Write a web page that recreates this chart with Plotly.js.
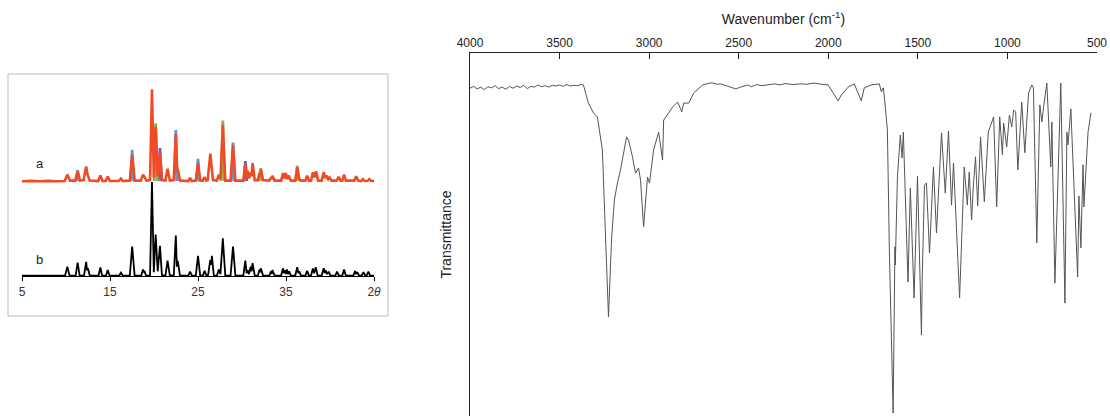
<!DOCTYPE html>
<html><head><meta charset="utf-8">
<script src="https://cdn.plot.ly/plotly-3.0.1.min.js"></script>
<style>html,body{margin:0;padding:0;background:#fff}#chart{width:1110px;height:416px}</style>
</head><body><div id="chart"></div>
<script>
// ---------- XRD pattern b (black), 2theta vs relative intensity ----------
const xrdB_theta = [
 5, 9.9, 10.15, 10.4,
 11.1, 11.32, 11.55,
 12.05, 12.29, 12.4, 12.5, 12.7,
 13.7, 13.91, 14.1,
 14.55, 14.74, 14.95,
 16.05, 16.24, 16.45,
 17.25, 17.52, 17.8,
 18.55, 18.75, 18.82, 18.9, 19.1,
 19.55, 19.77, 19.98, 20.19, 20.42, 20.68, 20.9,
 21.3, 21.54, 21.8,
 22.25, 22.48, 22.6, 22.7, 22.95,
 23.9, 24.1, 24.3,
 24.75, 25.0, 25.25,
 25.55, 25.75, 25.95,
 26.15, 26.39, 26.48, 26.58, 26.8,
 27.15, 27.37, 27.55, 27.82, 28.1,
 28.7, 28.98, 29.25,
 30.15, 30.38, 30.52, 30.64, 30.8, 30.98, 31.08, 31.2, 31.45,
 31.8, 32.0, 32.07, 32.14, 32.4,
 33.1, 33.3, 33.38, 33.46, 33.7,
 34.45, 34.66, 34.76, 34.85, 34.97, 35.1, 35.22, 35.35, 35.55,
 36.05, 36.28, 36.4, 36.5, 36.7,
 37.2, 37.4, 37.6,
 37.85, 38.05, 38.2, 38.38, 38.6,
 39.05, 39.29, 39.4, 39.5, 39.68, 39.85, 40.05,
 40.6, 40.8, 41.0,
 41.4, 41.6, 41.8,
 42.65, 42.86, 42.98, 43.1, 43.3,
 43.6, 43.8, 44.0,
 44.15, 44.36, 44.55, 45
];
const xrdB_int = [
 0.5, 0.5, 10, 0.5,
 0.5, 14.3, 0.5,
 0.5, 15, 6, 8, 0.5,
 0.5, 9, 0.5,
 0.5, 6.4, 0.5,
 0.5, 3.6, 0.5,
 0.5, 31.4, 0.5,
 0.5, 7, 4, 5.5, 0.5,
 0.5, 100, 4, 44, 5, 32, 1,
 0.5, 16.4, 0.5,
 1, 43, 10, 16, 0.5,
 0.5, 4.6, 0.5,
 0.5, 21.4, 0.5,
 0.5, 5.4, 0.5,
 1, 17, 12, 21.4, 0.5,
 0.5, 7, 2, 40, 0.5,
 0.5, 31.4, 0.5,
 0.5, 16.4, 3, 6.4, 2, 10, 5, 13.6, 0.5,
 0.5, 7, 4, 8.2, 0.5,
 0.5, 5, 2, 6.4, 0.5,
 0.5, 8.2, 3, 6, 2, 7, 2, 5, 0.5,
 0.5, 9.3, 3, 5, 0.5,
 0.5, 5.4, 0.5,
 0.5, 7.9, 3, 9.3, 0.5,
 0.5, 8.2, 3, 6, 2, 4.6, 0.5,
 0.5, 4.6, 0.5,
 0.5, 7, 0.5,
 0.5, 5.4, 2, 4, 0.5,
 0.5, 4, 0.5,
 0.5, 4.6, 0.5, 0.5
];

// ---------- XRD pattern a (orange) ----------
const xrdA_theta = [
 5, 6, 7, 8, 9, 9.85, 10.15, 10.45,
 11.05, 11.32, 11.6,
 12.0, 12.29, 12.45, 12.7,
 13.65, 13.91, 14.15,
 14.5, 14.74, 14.98,
 16.0, 16.24, 16.5,
 17.25, 17.52, 17.8,
 18.5, 18.75, 18.9, 19.15,
 19.55, 19.77, 19.98, 20.19, 20.42, 20.68, 20.92,
 21.3, 21.54, 21.8,
 22.25, 22.48, 22.62, 22.7, 22.95,
 23.9, 24.1, 24.3,
 24.75, 25.0, 25.25,
 25.55, 25.75, 25.95,
 26.1, 26.4, 26.7,
 27.15, 27.37, 27.55, 27.82, 28.1,
 28.7, 28.98, 29.25,
 30.15, 30.38, 30.52, 30.64, 30.8, 30.98, 31.08, 31.2, 31.45,
 31.8, 32.0, 32.07, 32.14, 32.4,
 33.1, 33.3, 33.38, 33.46, 33.7,
 34.45, 34.66, 34.8, 34.98, 35.12, 35.3, 35.55,
 36.05, 36.28, 36.5, 36.7,
 37.2, 37.4, 37.6,
 37.85, 38.05, 38.22, 38.42, 38.65,
 39.05, 39.29, 39.45, 39.6, 39.8, 39.95, 40.15,
 40.75, 40.98, 41.2,
 41.4, 41.6, 41.8,
 42.75, 42.97, 43.2,
 43.55, 43.75, 43.95,
 44.25, 44.47, 44.7, 45
];
const xrdA_int = [
 0.8, 1.2, 0.8, 1.2, 0.8, 1, 7.9, 1.5,
 1.5, 11.4, 1.5,
 2, 16.8, 8, 1.5,
 1, 7, 1,
 1, 6, 1,
 1, 3.6, 1,
 1.5, 29.3, 1.5,
 1.5, 7.9, 5.5, 1.5,
 2, 99.6, 5, 59.6, 6, 31, 2,
 1.5, 14.3, 1.5,
 2, 51.8, 12, 14, 1.5,
 1, 4.3, 1,
 1.5, 20.4, 1.5,
 1.5, 5.4, 1.5,
 2, 30.4, 2,
 1.5, 7.9, 3, 61.4, 1.5,
 1.5, 40, 1.5,
 1.5, 18.6, 4, 12, 4, 10, 6, 20.4, 2,
 2, 10, 6, 13.2, 2,
 1.5, 5, 3, 6.8, 1.5,
 1.5, 9.6, 4, 9.6, 3, 7, 1.5,
 1.5, 16, 3, 1.5,
 1.5, 6.8, 1.5,
 1.5, 10.4, 5, 11.4, 1.5,
 1.5, 10.7, 4, 7, 3, 5, 1.5,
 1.5, 5.4, 1.5,
 1.5, 7.9, 1.5,
 1.5, 6, 1.5,
 1, 3, 1,
 1, 3.2, 1, 1
];

// peak tips of the overlaid patterns visible above pattern a
const tipsBlue_theta = [11.32, 17.52, 22.48, 25.0, 28.98];
const tipsBlue_int   = [12.8, 34.5, 56.0, 25.0, 42.5];
const tipsPurple_theta = [20.68, 30.38];
const tipsPurple_int   = [36.5, 22.5];
const tipsGreen_theta = [20.19, 27.82, 32.14, 36.28];
const tipsGreen_int   = [63.0, 66.0, 15.0, 17.5];

const xrdTickVals = [5, 15, 25, 35, 45];
const xrdTickText = ['5', '15', '25', '35', '2<i>θ</i>'];

// ---------- IR spectrum ----------
const irWave = [4000,3980,3960,3940,3920,3900,3880,3860,3840,3820,3800,3780,3760,3740,3720,3700,3680,3660,3640,3620,3600,3580,3560,3540,3520,3500,3480,3460,3440,3420,3400,3380,
 3367,3339,3311,3289,3261,3244,3227,3210,3194,3177,3160,3126,3115,3093,3076,3059,3048,3031,3009,2998,2975,2947,2925,2919,2891,2869,2841,2818,2807,2779,2751,
 2701,2680,2650,2620,2600,2570,2540,2516,2490,2470,2449,2430,2400,2370,2337,2300,2270,2240,2200,2152,2120,2080,2040,2001,
 1973,1945,1928,1889,1855,1816,1799,1760,1715,1704,1693,1687,1670,1659,1638,1631,1628,1626,1614,1598,1588,1581,1555,1542,1521,1502,1480,1476,1463,1452,1435,1413,1396,1368,1347,1329,1312,1301,1267,1241,1224,1213,1200,1191,1178,1166,1150,1129,1107,
 1077,1060,1043,1028,1021,1004,989,976,965,954,942,920,903,882,864,855,836,819,808,798,780,758,752,735,702,679,668,662,646,608,601,590,578,573,550,534];
const irTrans = [90.3,90.8,90.1,90.6,89.9,90.7,90.4,91.0,90.2,90.6,90.0,90.8,90.3,90.9,90.5,91.1,90.2,90.8,90.6,91.2,90.7,91.0,90.6,91.1,90.9,91.2,90.8,91.3,90.9,91.1,91.0,91.3,
 91.2,86.2,83.5,82.4,73.3,51.2,27.3,48.5,59.5,64.2,67.8,76.9,76.0,71.4,66.9,68.3,65.0,52.1,65.8,64.2,73.3,78.2,70.5,81.5,83.5,85.1,86.5,83.8,86.2,86.2,89.0,
 91.2,91.5,91.8,91.4,91.5,91.0,90.6,90.1,90.6,91.0,91.2,90.7,91.3,91.0,91.2,91.5,91.2,91.6,91.3,91.5,91.4,91.7,91.4,91.2,
 89.0,86.8,88.4,90.6,91.5,86.8,90.4,91.2,91.5,89.3,90.4,87.9,78.8,45.7,0.8,32.0,46.6,41.6,65.8,77.4,71.1,78.2,36.9,62.8,32.5,66.1,22.3,37.5,63.6,64.2,44.9,68.6,50.4,78.0,61.4,78.5,58.1,69.7,32.5,68.6,58.1,67.2,54.0,62.8,71.4,57.9,76.9,59.0,78.2,
 82.4,57.6,82.4,71.9,80.7,74.1,82.9,79.6,84.3,83.8,67.8,86.5,72.5,89.0,91.2,90.4,47.7,85.7,81.0,85.1,91.7,68.6,81.0,36.6,91.7,31.1,78.2,74.7,84.6,38.3,60.6,46.3,69.2,57.6,78.2,83.5];
const irTickVals = [4000, 3500, 3000, 2500, 2000, 1500, 1000, 500];

// ---------- build ----------
function tips(th, inten) {
  const x = [], y = [];
  th.forEach((t, i) => { x.push(t - 0.18, t, t + 0.18, null); y.push(1, inten[i], 1, null); });
  return {x, y};
}
const W = 1110, H = 416;
const px = v => v / W, py = v => 1 - v / H;
const F = 'Liberation Sans, Arial, sans-serif';

const tb = tips(tipsBlue_theta, tipsBlue_int);
const tp = tips(tipsPurple_theta, tipsPurple_int);
const tg = tips(tipsGreen_theta, tipsGreen_int);

const data = [
  {x: xrdB_theta, y: xrdB_int, xaxis: 'x', yaxis: 'y', mode: 'lines', line: {color: '#000', width: 1.8}, hoverinfo: 'skip'},
  {x: tb.x, y: tb.y, xaxis: 'x', yaxis: 'y3', mode: 'lines', line: {color: '#5b9bd5', width: 2.8}, hoverinfo: 'skip'},
  {x: tp.x, y: tp.y, xaxis: 'x', yaxis: 'y3', mode: 'lines', line: {color: '#7a5cb0', width: 2.8}, hoverinfo: 'skip'},
  {x: tg.x, y: tg.y, xaxis: 'x', yaxis: 'y3', mode: 'lines', line: {color: '#8fb34a', width: 2.8}, hoverinfo: 'skip'},
  {x: xrdA_theta, y: xrdA_int, xaxis: 'x', yaxis: 'y3', mode: 'lines', line: {color: '#f04b25', width: 2.6}, hoverinfo: 'skip'},
  {x: irWave, y: irTrans, xaxis: 'x2', yaxis: 'y2', mode: 'lines', line: {color: '#555', width: 1}, hoverinfo: 'skip'}
];

const layout = {
  width: W, height: H, showlegend: false,
  margin: {l: 0, r: 0, t: 0, b: 0},
  paper_bgcolor: '#fff', plot_bgcolor: 'rgba(0,0,0,0)',
  font: {family: F, color: '#222'},
  xaxis: {
    domain: [px(22), px(374)], range: [5, 45], anchor: 'free', position: py(276),
    showline: true, linecolor: '#000', linewidth: 1.2,
    ticks: 'outside', ticklen: 4, tickcolor: '#000',
    tickvals: xrdTickVals, ticktext: xrdTickText,
    tickfont: {size: 12, color: '#333', family: F},
    showgrid: false, zeroline: false, automargin: false
  },
  yaxis: {
    domain: [py(280.7), py(176.4)], range: [-5, 106], anchor: 'x',
    visible: false, showgrid: false, zeroline: false
  },
  yaxis3: {
    domain: [py(186.65), py(84.35)], range: [-5, 105], anchor: 'x',
    visible: false, showgrid: false, zeroline: false
  },
  xaxis2: {
    domain: [px(470), px(1097)], range: [4000, 500], anchor: 'y2', side: 'top',
    showline: true, linecolor: '#222', linewidth: 1,
    ticks: 'inside', ticklen: 6, tickcolor: '#222',
    tickvals: irTickVals, tickfont: {size: 12, color: '#222', family: F},
    title: {text: 'Wavenumber (cm<sup>-1</sup>)', font: {size: 14, color: '#222', family: F}, standoff: 8},
    showgrid: false, zeroline: false, automargin: false
  },
  yaxis2: {
    domain: [0, py(53)], range: [0, 100], anchor: 'x2',
    showline: true, linecolor: '#222', linewidth: 1,
    ticks: '', showticklabels: false,
    title: {text: 'Transmittance', font: {size: 14, color: '#222', family: F}, standoff: 14},
    showgrid: false, zeroline: false, automargin: false
  },
  shapes: [
    {type: 'rect', xref: 'paper', yref: 'paper', x0: px(8), x1: px(388), y0: py(316), y1: py(74),
     line: {color: '#bdbdbd', width: 1}, fillcolor: 'rgba(0,0,0,0)'}
  ],
  annotations: [
    {text: 'a', xref: 'paper', yref: 'paper', x: px(40), y: py(163), showarrow: false,
     font: {size: 13, color: '#222', family: F}, xanchor: 'center', yanchor: 'middle'},
    {text: 'b', xref: 'paper', yref: 'paper', x: px(39), y: py(259), showarrow: false,
     font: {size: 13, color: '#222', family: F}, xanchor: 'center', yanchor: 'middle'}
  ]
};

Plotly.newPlot('chart', data, layout, {staticPlot: true, displayModeBar: false});
</script>
</body></html>
